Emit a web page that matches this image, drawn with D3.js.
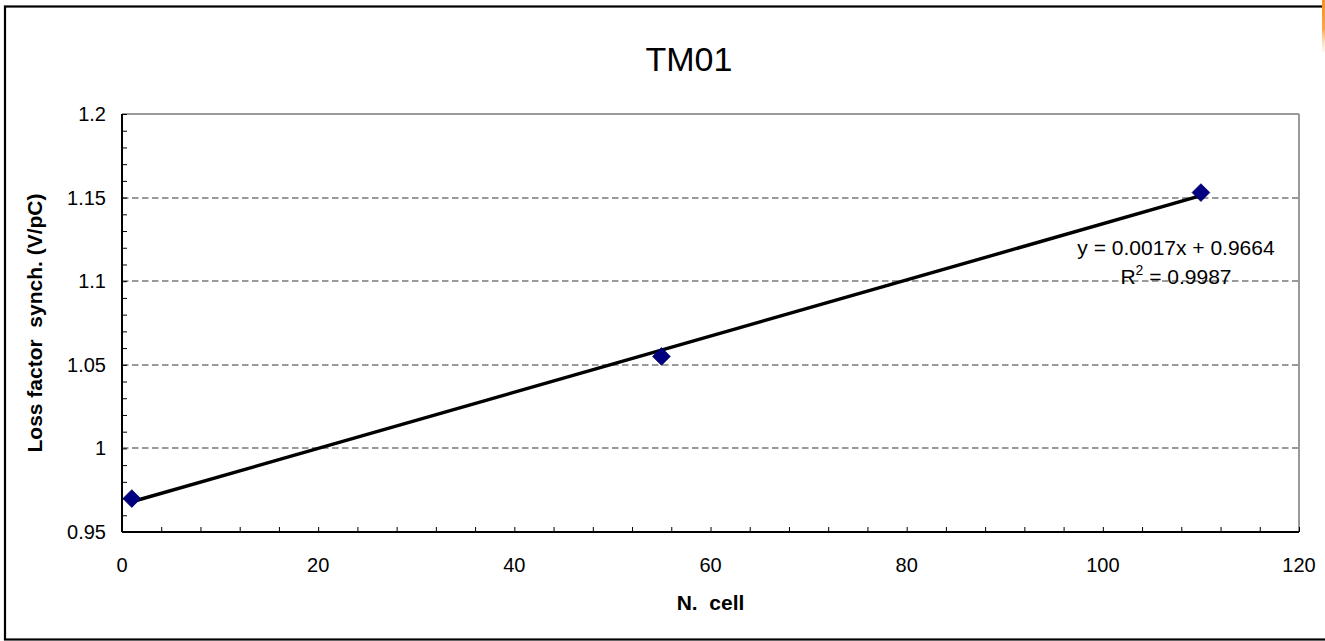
<!DOCTYPE html>
<html>
<head>
<meta charset="utf-8">
<script src="https://cdn.jsdelivr.net/npm/d3@7"></script>
<style>
  html, body { margin: 0; padding: 0; background: #fff; }
  svg { display: block; }
  text { font-family: "Liberation Sans", Arial, sans-serif; }
</style>
</head>
<body>
<svg id="chart" width="1325" height="641"></svg>
<script>
// ---- data ----
const title = "TM01";
const xLabel = "N.  cell";
const yLabel = "Loss factor  synch. (V/pC)";
const cells = [1, 55, 110];
const lossFactor = [0.970, 1.055, 1.153];
const xTicks = [0, 20, 40, 60, 80, 100, 120];
const yTicks = [0.95, 1, 1.05, 1.1, 1.15, 1.2];
const xDomain = [0, 120];
const yDomain = [0.95, 1.2];

// ---- layout ----
const W = 1325, H = 641;
const plot = { left: 122, right: 1299, top: 114, bottom: 532 };
const svg = d3.select("#chart");

const x = d3.scaleLinear().domain(xDomain).range([plot.left, plot.right]);
const y = d3.scaleLinear().domain(yDomain).range([plot.bottom, plot.top]);

// orange strip top-right
const defs = svg.append("defs");
const grad = defs.append("linearGradient").attr("id", "og").attr("x1", 0).attr("y1", 0).attr("x2", 0).attr("y2", 1);
grad.append("stop").attr("offset", "0%").attr("stop-color", "#f7931e");
grad.append("stop").attr("offset", "55%").attr("stop-color", "#f8a54a");
grad.append("stop").attr("offset", "100%").attr("stop-color", "#fde3c6").attr("stop-opacity", 0.3);

// outer chart border
svg.append("rect").attr("x", 5).attr("y", 6.5).attr("width", 1330).attr("height", 633)
  .attr("fill", "#fff").attr("stroke", "#000").attr("stroke-width", 2.2);
svg.append("rect").attr("x", 1322).attr("y", 0).attr("width", 3).attr("height", 52).attr("fill", "url(#og)");

// title
svg.append("text").attr("x", 689).attr("y", 71).attr("text-anchor", "middle")
  .attr("font-size", 34).attr("fill", "#000").text(title);

// gridlines (dashed)
svg.append("g").selectAll("line").data(yTicks.filter(v => v > yDomain[0] && v < yDomain[1]))
  .join("line")
  .attr("x1", plot.left).attr("x2", plot.right)
  .attr("y1", d => Math.round(y(d))).attr("y2", d => Math.round(y(d)))
  .attr("stroke", "#7a7a7a").attr("stroke-width", 1.6).attr("stroke-dasharray", "6.5,3.5");

// plot frame: top & right gray
svg.append("line").attr("x1", plot.left).attr("x2", plot.right).attr("y1", plot.top).attr("y2", plot.top)
  .attr("stroke", "#999").attr("stroke-width", 2);
svg.append("line").attr("x1", plot.right).attr("x2", plot.right).attr("y1", plot.top).attr("y2", plot.bottom)
  .attr("stroke", "#999").attr("stroke-width", 2);

// axes using d3 axis generators
const xAxis = d3.axisBottom(x).tickValues(d3.range(0, 121, 4)).tickSize(-5).tickFormat("");
const gx = svg.append("g").attr("transform", `translate(0,${plot.bottom})`).call(xAxis);
gx.select(".domain").attr("stroke", "#000").attr("stroke-width", 2).attr("d", `M${plot.left},0H${plot.right}`);
gx.selectAll(".tick line").attr("stroke", "#000").attr("stroke-width", 1);

const yAxis = d3.axisLeft(y).tickValues(d3.range(0, 26).map(i => 0.95 + i * 0.01)).tickSize(-5).tickFormat("");
const gy = svg.append("g").attr("transform", `translate(${plot.left},0)`).call(yAxis);
gy.select(".domain").attr("stroke", "#000").attr("stroke-width", 2).attr("d", `M0,${plot.top}V${plot.bottom}`);
gy.selectAll(".tick line").attr("stroke", "#000").attr("stroke-width", 1);

// tick labels
svg.append("g").selectAll("text").data(xTicks).join("text")
  .attr("x", d => x(d)).attr("y", 572).attr("text-anchor", "middle")
  .attr("font-size", 20).attr("fill", "#000").text(d => d);
svg.append("g").selectAll("text").data(yTicks).join("text")
  .attr("x", 106).attr("y", d => y(d)).attr("dy", "0.35em").attr("text-anchor", "end")
  .attr("font-size", 20).attr("fill", "#000").text(d => d3.format("")(d));

// axis titles
svg.append("text").attr("x", (plot.left + plot.right) / 2).attr("y", 610).attr("text-anchor", "middle")
  .attr("font-size", 21).attr("font-weight", "bold").attr("fill", "#000").style("white-space", "pre").text(xLabel);
svg.append("text").attr("transform", `translate(42,${(plot.top + plot.bottom) / 2}) rotate(-90)`)
  .attr("text-anchor", "middle").attr("font-size", 21).attr("font-weight", "bold").attr("fill", "#000")
  .style("white-space", "pre").text(yLabel);

// linear regression trend line
const mx = d3.mean(cells), my = d3.mean(lossFactor);
const sxy = d3.sum(cells.map((c, i) => (c - mx) * (lossFactor[i] - my)));
const sxx = d3.sum(cells.map(c => (c - mx) ** 2));
const slope = sxy / sxx, intercept = my - slope * mx;
const ssRes = d3.sum(cells.map((c, i) => (lossFactor[i] - (slope * c + intercept)) ** 2));
const ssTot = d3.sum(lossFactor.map(v => (v - my) ** 2));
const r2 = 1 - ssRes / ssTot;
const xs = d3.extent(cells);
svg.append("path")
  .attr("d", d3.line().x(d => x(d)).y(d => y(slope * d + intercept))(xs))
  .attr("stroke", "#000").attr("stroke-width", 3.4).attr("fill", "none");

// markers (diamonds)
svg.append("g").selectAll("path").data(cells.map((c, i) => [c, lossFactor[i]])).join("path")
  .attr("transform", d => `translate(${x(d[0])},${y(d[1])})`)
  .attr("d", d3.symbol().type(d3.symbolDiamond2).size(200))
  .attr("fill", "#000080").attr("stroke", "#00005a").attr("stroke-width", 0.8);

// equation labels
const eq = svg.append("g").attr("font-size", 21).attr("fill", "#000");
eq.append("text").attr("x", 1176).attr("y", 255).attr("text-anchor", "middle")
  .text(`y = ${slope.toFixed(4)}x + ${intercept.toFixed(4)}`);
const r2t = eq.append("text").attr("x", 1176).attr("y", 284).attr("text-anchor", "middle");
r2t.append("tspan").text("R");
r2t.append("tspan").attr("font-size", 14).attr("dy", -9).text("2");
r2t.append("tspan").attr("dy", 9).text(` = ${r2.toFixed(4)}`);
</script>
</body>
</html>
